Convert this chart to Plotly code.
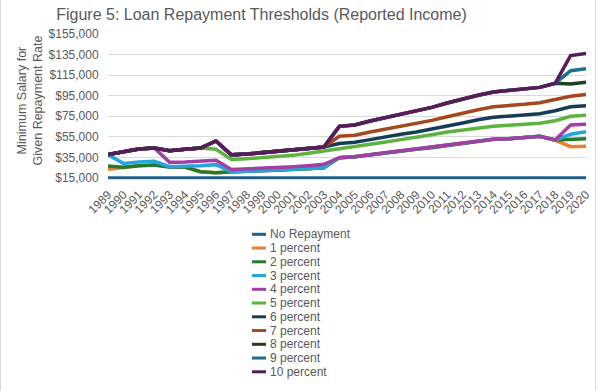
import plotly.graph_objects as go

years = ["1989", "1990", "1991", "1992", "1993", "1994", "1995", "1996", "1997", "1998",
         "1999", "2000", "2001", "2002", "2003", "2004", "2005", "2006", "2007", "2008",
         "2009", "2010", "2011", "2012", "2013", "2014", "2015", "2016", "2017", "2018",
         "2019", "2020"]

no_repayment = [15000, 15000, 15000, 15000, 15000, 15000, 15000, 15000, 15000, 15000,
                15000, 15000, 15000, 15000, 15000, 15000, 15000, 15000, 15000, 15000,
                15000, 15000, 15000, 15000, 15000, 15000, 15000, 15000, 15000, 15000,
                15000, 15000]
pct1 = [23400, 25400, 27000, 27600, 25700, 25700, 21100, 20200, 21000, 21500,
        22100, 22500, 23400, 24000, 25000, 34800, 35700, 37700, 39600, 41200,
        42900, 44500, 46700, 48700, 50500, 52600, 53200, 54200, 55500, 51900,
        45400, 45800]
pct2 = [26700, 25400, 27000, 27600, 25700, 25700, 21100, 20200, 21000, 21500,
        22100, 22500, 23400, 24000, 25000, 34800, 35700, 37700, 39600, 41200,
        42900, 44500, 46700, 48700, 50500, 52600, 53200, 54200, 55500, 51900,
        52600, 53200]
pct3 = [37700, 29200, 30500, 31200, 26000, 26300, 27000, 28000, 21000, 21500,
        22100, 22500, 23400, 24000, 25000, 34800, 35700, 37700, 39600, 41200,
        42900, 44500, 46700, 48700, 50500, 52600, 53200, 54200, 55500, 51900,
        57500, 60000]
pct4 = [37700, 40600, 43200, 44200, 30200, 30600, 31200, 32200, 23200, 23700,
        24400, 25000, 26000, 27000, 28300, 34800, 35700, 37700, 39600, 41200,
        42900, 44500, 46700, 48700, 50500, 52600, 53200, 54200, 55500, 51900,
        66500, 67200]
pct5 = [37700, 40600, 43200, 44200, 41500, 42900, 44200, 42900, 33000, 33800,
        34800, 35400, 37000, 39000, 41200, 43200, 44800, 47700, 50000, 52300,
        54500, 57100, 59800, 61600, 63300, 65300, 66200, 67200, 68200, 70700,
        75000, 75900]
pct6 = [37700, 40600, 43200, 44200, 41500, 42900, 44200, 51000, 37500, 38300,
        39600, 40600, 42200, 43900, 45100, 48500, 49700, 52300, 55200, 57500,
        59700, 62300, 65500, 68500, 71700, 74000, 75300, 76200, 77500, 80400,
        84300, 85300]
pct7 = [37700, 40600, 43200, 44200, 41500, 42900, 44200, 51000, 37500, 38300,
        39600, 40600, 42200, 43900, 45100, 55600, 56500, 59700, 62600, 65200,
        67800, 71000, 74600, 78200, 81400, 84300, 85300, 86600, 88200, 91000,
        94500, 96100]
pct8 = [37700, 40600, 43200, 44200, 41500, 42900, 44200, 51000, 37500, 38300,
        39600, 40600, 42200, 43900, 45100, 65200, 66500, 70400, 73600, 77200,
        80400, 83700, 87900, 91800, 95500, 98600, 100200, 101700, 103100, 107000,
        106400, 108000]
pct9 = [37700, 40600, 43200, 44200, 41500, 42900, 44200, 51000, 37500, 38300,
        39600, 40600, 42200, 43900, 45100, 65200, 66500, 70400, 73600, 77200,
        80400, 83700, 87900, 91800, 95500, 98600, 100200, 101700, 103100, 107000,
        119300, 121200]
pct10 = [37700, 40600, 43200, 44200, 41500, 42900, 44200, 51000, 37500, 38300,
         39600, 40600, 42200, 43900, 45100, 65200, 66500, 70400, 73600, 77200,
         80400, 83700, 87900, 91800, 95500, 98600, 100200, 101700, 103100, 107000,
         134000, 136000]

series_names = ["No Repayment", "1 percent", "2 percent", "3 percent", "4 percent",
                "5 percent", "6 percent", "7 percent", "8 percent", "9 percent",
                "10 percent"]
series_values = [no_repayment, pct1, pct2, pct3, pct4, pct5, pct6, pct7, pct8, pct9, pct10]
series_colors = ["#235e88", "#ed7d31", "#267a2e", "#23a5de", "#a23fa3",
                 "#5cb43e", "#163d55", "#a5481d", "#1f3f1f", "#1d6f92", "#5b1a58"]

y_tick_values = [15000, 35000, 55000, 75000, 95000, 115000, 135000, 155000]
y_tick_labels = ["$15,000", "$35,000", "$55,000", "$75,000", "$95,000",
                 "$115,000", "$135,000", "$155,000"]

W, H = 600, 391
L, R, T, B = 108, 586, 34, 179
TXT = "#595959"
FONT = "Liberation Sans, Arial, sans-serif"


def px_x(px):
    return (px - L) / (R - L)


def px_y(py):
    return (B - py) / (B - T)


fig = go.Figure()
for name, vals, col in zip(series_names, series_values, series_colors):
    fig.add_trace(go.Scatter(x=years, y=vals, name=name, mode="lines",
                             line=dict(color=col, width=3.5), showlegend=False))

# manual compact legend
shapes = []
annotations = []
row0, step = 234.3, 13.75
for i, (name, col) in enumerate(zip(series_names, series_colors)):
    yc = row0 + i * step
    shapes.append(dict(type="line", xref="paper", yref="paper",
                       x0=px_x(252), x1=px_x(266), y0=px_y(yc), y1=px_y(yc),
                       line=dict(color=col, width=3)))
    annotations.append(dict(x=px_x(268), y=px_y(yc), xref="paper", yref="paper",
                            text=name, showarrow=False, xanchor="left", yanchor="middle",
                            font=dict(size=12, color=TXT, family=FONT)))

# y axis title
annotations.append(dict(x=px_x(29.5), y=px_y(101), xref="paper", yref="paper",
                        text="Minimum Salary for<br>Given Repayment Rate", textangle=-90,
                        showarrow=False, xanchor="center", yanchor="middle",
                        font=dict(size=12.5, color=TXT, family=FONT)))

# chart border lines
shapes.append(dict(type="line", xref="paper", yref="paper", x0=px_x(0.5), x1=px_x(0.5),
                   y0=px_y(0), y1=px_y(391), line=dict(color="#d9d9d9", width=1)))
shapes.append(dict(type="line", xref="paper", yref="paper", x0=px_x(595.5), x1=px_x(595.5),
                   y0=px_y(0), y1=px_y(391), line=dict(color="#d9d9d9", width=1)))

ymin = 15000 - (B - 178) * 140000 / 144

fig.update_layout(
    width=W, height=H,
    margin=dict(l=L, r=W - R, t=T, b=H - B, pad=0),
    paper_bgcolor="white", plot_bgcolor="white",
    font=dict(family=FONT, size=12, color=TXT),
    title=dict(text="Figure 5: Loan Repayment Thresholds (Reported Income)",
               x=261.5 / W, xref="container", xanchor="center",
               y=1 - 14 / H, yref="container", yanchor="middle",
               font=dict(size=16, color=TXT, family=FONT)),
    showlegend=False,
    shapes=shapes,
    annotations=annotations,
    xaxis=dict(type="category", tickangle=-45, showgrid=False,
               showline=True, linecolor="#d9d9d9", linewidth=1,
               ticks="outside", ticklen=3, tickcolor="rgba(0,0,0,0)",
               tickfont=dict(size=12, color=TXT, family=FONT), automargin=False),
    yaxis=dict(range=[ymin, 155000], tickvals=y_tick_values, ticktext=y_tick_labels,
               showgrid=True, gridcolor="#d9d9d9", gridwidth=1, zeroline=False,
               showline=False, ticks="outside", ticklen=6, tickcolor="rgba(0,0,0,0)",
               tickfont=dict(size=12, color=TXT, family=FONT), automargin=False),
)

fig.write_html("out.html", config={"displayModeBar": False},
               post_script="document.body.style.margin='0';document.body.style.overflow='hidden';")
